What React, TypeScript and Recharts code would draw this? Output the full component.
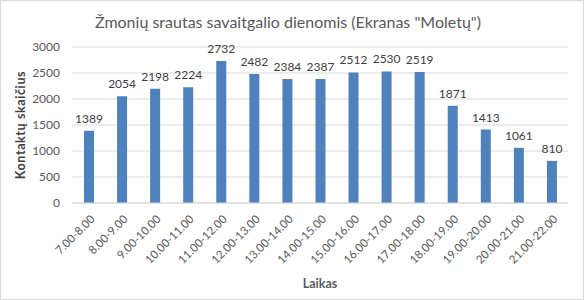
import React from 'react';
import { BarChart, Bar, XAxis, YAxis, CartesianGrid, LabelList, Label } from 'recharts';

const hours = [
  '7.00-8.00', '8.00-9.00', '9.00-10.00', '10.00-11.00', '11.00-12.00',
  '12.00-13.00', '13.00-14.00', '14.00-15.00', '15.00-16.00', '16.00-17.00',
  '17.00-18.00', '18.00-19.00', '19.00-20.00', '20.00-21.00', '21.00-22.00',
];
const contacts = [1389, 2054, 2198, 2224, 2732, 2482, 2384, 2387, 2512, 2530, 2519, 1871, 1413, 1061, 810];
const yTicks = [0, 500, 1000, 1500, 2000, 2500, 3000];

const data = hours.map((h, i) => ({ hour: h, value: contacts[i] }));

const FONT = 'Lato, "Open Sans", sans-serif';

function HourTick(props: any) {
  const { x, y, payload } = props;
  return (
    <g transform={`translate(${x + 4},${y + 6})`}>
      <text
        x={0}
        y={0}
        dy="0.35em"
        textAnchor="end"
        transform="rotate(-45)"
        fill="#595959"
        fontSize={11.5}
        fontFamily={FONT}
      >
        {payload.value}
      </text>
    </g>
  );
}

export default function App() {
  return (
    <div
      style={{
        position: 'absolute',
        left: 0,
        top: 0,
        width: 584,
        height: 300,
        boxSizing: 'border-box',
        border: '1px solid #d9d9d9',
        background: '#fff',
        fontFamily: FONT,
      }}
    >
      <div
        style={{
          position: 'absolute',
          left: 0,
          top: 11,
          width: 574,
          textAlign: 'center',
          fontSize: 16,
          color: '#595959',
        }}
      >
        Žmonių srautas savaitgalio dienomis (Ekranas "Moletų")
      </div>
      <div style={{ position: 'absolute', left: -1, top: -1 }}>
        <BarChart width={584} height={300} data={data} margin={{ top: 47, right: 16, left: 12, bottom: 0 }}>
          <CartesianGrid vertical={false} stroke="#d9d9d9" />
          <XAxis
            dataKey="hour"
            tick={<HourTick />}
            tickLine={false}
            axisLine={{ stroke: '#d9d9d9' }}
            interval={0}
            height={97}
          >
            <Label
              value="Laikas"
              position="insideBottom"
              offset={12}
              fill="#595959"
              fontSize={12.5}
              fontWeight="bold"
              fontFamily={FONT}
            />
          </XAxis>
          <YAxis
            domain={[0, 3000]}
            ticks={yTicks}
            tickLine={false}
            axisLine={false}
            width={60}
            tick={{ fill: '#595959', fontSize: 12, fontFamily: FONT }}
            tickMargin={6}
          >
            <Label
              value="Kontaktų skaičius"
              angle={-90}
              position="insideLeft"
              offset={9}
              style={{ textAnchor: 'middle', letterSpacing: 0.6 }}
              fill="#404040"
              fontSize={12.5}
              fontWeight="bold"
              fontFamily={FONT}
            />
          </YAxis>
          <Bar dataKey="value" fill="#4f81bd" barSize={10} isAnimationActive={false}>
            <LabelList dataKey="value" position="top" offset={8} fill="#404040" fontSize={12} fontFamily={FONT} />
          </Bar>
        </BarChart>
      </div>
    </div>
  );
}
